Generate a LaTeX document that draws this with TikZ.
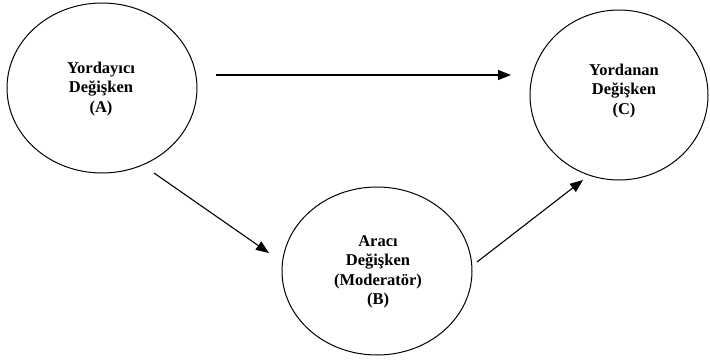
\documentclass[tikz,border=0pt]{standalone}
\usepackage{fontspec}
\setmainfont{Liberation Serif}
\usetikzlibrary{arrows.meta}
\begin{document}
\begin{tikzpicture}[x=1pt,y=-1pt,
  lbl/.style={align=center,font=\fontsize{16.5}{19.5}\selectfont\bfseries},
  arr/.style={line width=1.1pt,-{Triangle[length=13pt,width=10pt]}}]
\useasboundingbox (0,0) rectangle (710,362);
\draw[line width=1pt] (102,88) ellipse [x radius=95,y radius=85];
\draw[line width=1pt] (619,95) ellipse [x radius=89,y radius=85];
\draw[line width=1pt] (377,271) ellipse [x radius=95,y radius=84];
\node[lbl] (A) at (101,89) {Yordayıcı\\Değişken\\(A)};
\node[lbl] (C) at (624,91) {Yordanan\\Değişken\\(C)};
\node[lbl] (B) at (378,272) {Aracı\\Değişken\\(Moderatör)\\(B)};
\coordinate (a1) at (216,75);
\coordinate (c1) at (511,75);
\coordinate (a2) at (154,173);
\coordinate (b1) at (269,253);
\coordinate (b2) at (477,262);
\coordinate (c2) at (583,180);
\draw[arr] (a1) -- (c1);
\draw[arr] (a2) -- (b1);
\draw[arr] (b2) -- (c2);
\end{tikzpicture}
\end{document}
